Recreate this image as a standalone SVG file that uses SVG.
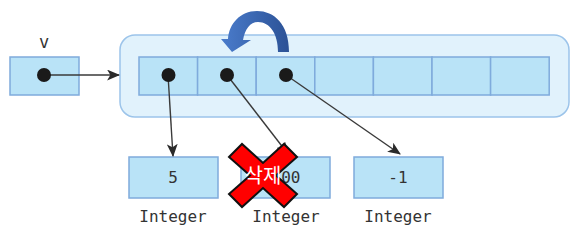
<svg xmlns="http://www.w3.org/2000/svg" width="586" height="241" viewBox="0 0 586 241">
<defs>
<style>
.cell{fill:#b9e3f7;stroke:#7fabdc;stroke-width:1.5}
.dot{fill:#1a1a1a}
.conn{stroke:#3a3a3a;stroke-width:1.4;fill:none;marker-end:url(#ah)}
.mono{font-family:"DejaVu Sans Mono","Liberation Mono",monospace;font-size:16px;fill:#333;text-anchor:middle}
</style>
<marker id="ah" viewBox="0 0 12 10" refX="11" refY="5" markerWidth="13" markerHeight="11" markerUnits="userSpaceOnUse" orient="auto">
<path d="M0,0 L12,5 L0,10 L3,5 Z" fill="#2a2a2a"/>
</marker>
<linearGradient id="bg" x1="0" y1="0" x2="1" y2="0">
<stop offset="0" stop-color="#4a7ccc"/>
<stop offset="1" stop-color="#2c5296"/>
</linearGradient>
</defs>
<g id="v">
<text x="44" y="48" font-family="DejaVu Sans Mono, Liberation Mono, monospace" font-size="17" fill="#333" text-anchor="middle">v</text>
<rect class="cell" x="10" y="57" width="69" height="38"/>
</g>
<g id="list">
<rect x="120" y="35" width="449" height="82" rx="15" fill="#e1f2fc" stroke="#9cc4ea" stroke-width="1.5"/>
<rect class="cell" x="139" y="57" width="58.6" height="38"/>
<rect class="cell" x="197.6" y="57" width="58.6" height="38"/>
<rect class="cell" x="256.2" y="57" width="58.6" height="38"/>
<rect class="cell" x="314.8" y="57" width="58.6" height="38"/>
<rect class="cell" x="373.4" y="57" width="58.6" height="38"/>
<rect class="cell" x="432" y="57" width="58.6" height="38"/>
<rect class="cell" x="490.6" y="57" width="58.6" height="38"/>
</g>
<g id="int5">
<rect class="cell" x="129" y="157" width="89" height="41"/>
<text class="mono" x="173" y="183">5</text>
<text class="mono" x="173" y="222">Integer</text>
</g>
<g id="int100">
<rect class="cell" x="241" y="157" width="89" height="41"/>
<text class="mono" x="286" y="183">100</text>
<text class="mono" x="286" y="222">Integer</text>
</g>
<g id="intm1">
<rect class="cell" x="354" y="157" width="89" height="41"/>
<text class="mono" x="398" y="183">-1</text>
<text class="mono" x="398" y="222">Integer</text>
</g>
<g id="connectors">
<line class="conn" x1="44" y1="75" x2="119" y2="75"/>
<line class="conn" x1="168" y1="75" x2="173" y2="156"/>
<line class="conn" x1="227" y1="75" x2="288" y2="154"/>
<line class="conn" x1="286" y1="75" x2="400" y2="154"/>
</g>
<g id="dots">
<circle class="dot" cx="44" cy="75" r="7"/>
<circle class="dot" cx="168.5" cy="75" r="7"/>
<circle class="dot" cx="227" cy="75" r="7"/>
<circle class="dot" cx="286" cy="75" r="7"/>
</g>
<g id="move-arrow">
<path d="M289,52 C289,24 274,11 257,11 C240,11 229,24 228,39 L221,39 L232,52 L251,40 L243,40 C245,29 250,22 258,22 C270,22 278,34 278,52 Z" fill="url(#bg)"/>
</g>
<g id="delete">
<polygon points="229,157 242,144 263,163 284,144 297,157 276,175.5 297,194 284,207 263,188 242,207 229,194 250,175.5" fill="#ff0000" stroke="#111" stroke-width="2" stroke-linejoin="miter"/>
<text x="263" y="183" font-family="Noto Sans CJK KR, sans-serif" font-size="20" fill="#fff" text-anchor="middle">삭제</text>
</g>
</svg>
